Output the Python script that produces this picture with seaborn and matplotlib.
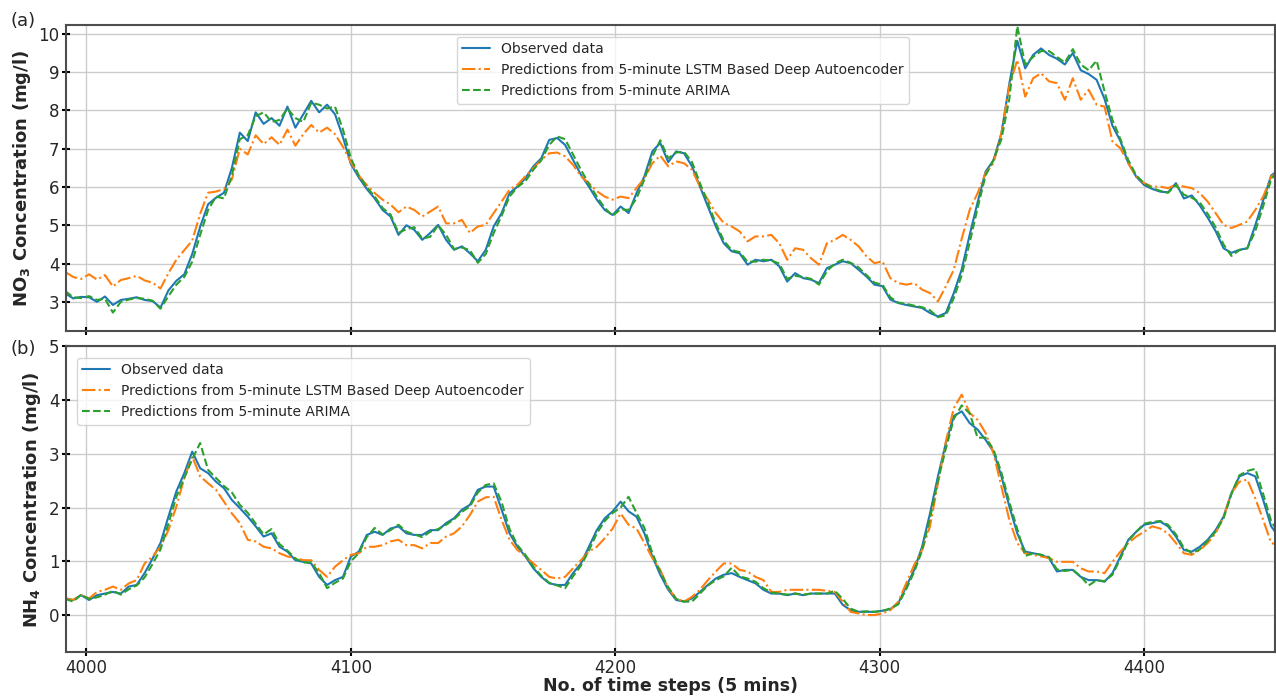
import numpy as np
import pandas as pd
import matplotlib
matplotlib.use("Agg")
import matplotlib.pyplot as plt
import seaborn as sns

# time steps (every third 5-minute step)
steps = list(range(3992, 4452, 3))

# NO3 panel (a)
no3_observed = [
    3.22, 3.09, 3.13, 3.12, 3.00, 3.14, 2.92, 3.05, 3.08, 3.12, 3.05, 3.02, 2.85, 3.30, 3.55, 3.72,
    4.25, 4.96, 5.55, 5.72, 5.85, 6.50, 7.42, 7.20, 7.95, 7.65, 7.80, 7.60, 8.10, 7.55, 7.90, 8.25,
    7.95, 8.15, 7.90, 7.30, 6.60, 6.25, 5.95, 5.70, 5.40, 5.23, 4.75, 5.00, 4.88, 4.62, 4.80, 5.01,
    4.62, 4.36, 4.45, 4.27, 4.06, 4.36, 4.97, 5.32, 5.84, 6.01, 6.23, 6.54, 6.75, 7.23, 7.28, 7.10,
    6.71, 6.32, 6.01, 5.67, 5.40, 5.27, 5.49, 5.32, 5.84, 6.28, 6.93, 7.15, 6.65, 6.93, 6.88, 6.54,
    6.01, 5.49, 4.97, 4.53, 4.32, 4.27, 3.97, 4.10, 4.06, 4.10, 3.93, 3.53, 3.75, 3.62, 3.58, 3.49,
    3.88, 3.97, 4.06, 4.01, 3.84, 3.66, 3.45, 3.41, 3.06, 2.97, 2.92, 2.88, 2.84, 2.71, 2.62, 2.71,
    3.23, 3.85, 4.75, 5.60, 6.40, 6.70, 7.40, 8.70, 9.82, 9.10, 9.45, 9.62, 9.45, 9.35, 9.20, 9.50,
    9.05, 8.95, 8.80, 8.30, 7.60, 7.20, 6.62, 6.27, 6.05, 5.95, 5.88, 5.86, 6.10, 5.70, 5.78, 5.52,
    5.20, 4.85, 4.40, 4.28, 4.36, 4.40, 5.00, 5.65, 6.30, 6.45,
]
no3_lstm = [
    3.78, 3.65, 3.60, 3.72, 3.58, 3.70, 3.40, 3.57, 3.62, 3.68, 3.56, 3.50, 3.35, 3.75, 4.10, 4.35,
    4.60, 5.30, 5.85, 5.88, 5.95, 6.20, 7.00, 6.85, 7.35, 7.12, 7.30, 7.10, 7.50, 7.08, 7.38, 7.62,
    7.42, 7.55, 7.38, 7.05, 6.65, 6.30, 6.05, 5.84, 5.67, 5.54, 5.34, 5.49, 5.40, 5.23, 5.36, 5.49,
    5.05, 5.05, 5.14, 4.80, 4.97, 5.01, 5.32, 5.62, 5.93, 6.06, 6.28, 6.49, 6.71, 6.88, 6.90, 6.80,
    6.58, 6.28, 6.10, 5.89, 5.75, 5.67, 5.75, 5.71, 5.97, 6.23, 6.62, 6.82, 6.54, 6.67, 6.62, 6.45,
    6.01, 5.67, 5.32, 5.06, 4.97, 4.84, 4.58, 4.71, 4.71, 4.75, 4.53, 4.10, 4.40, 4.36, 4.14, 3.97,
    4.53, 4.62, 4.75, 4.62, 4.45, 4.19, 4.01, 4.06, 3.62, 3.49, 3.45, 3.49, 3.32, 3.23, 3.01, 3.41,
    3.84, 4.65, 5.40, 5.84, 6.36, 6.62, 7.41, 8.63, 9.32, 8.36, 8.84, 8.97, 8.76, 8.71, 8.28, 8.84,
    8.28, 8.54, 8.15, 8.10, 7.19, 7.01, 6.62, 6.27, 6.10, 6.01, 6.01, 5.97, 6.06, 6.01, 5.97, 5.84,
    5.62, 5.32, 5.01, 4.93, 5.01, 5.10, 5.40, 5.75, 6.27, 6.40,
]
no3_arima = [
    3.28, 3.12, 3.10, 3.15, 3.05, 3.08, 2.72, 3.00, 3.06, 3.10, 3.08, 3.03, 2.82, 3.15, 3.45, 3.65,
    4.05, 4.75, 5.40, 5.75, 5.70, 6.30, 7.25, 7.35, 7.85, 7.95, 7.70, 7.75, 8.05, 7.80, 7.70, 8.20,
    8.15, 8.05, 8.10, 7.50, 6.75, 6.30, 6.00, 5.75, 5.45, 5.28, 4.80, 4.90, 4.95, 4.65, 4.70, 5.00,
    4.75, 4.38, 4.42, 4.35, 4.02, 4.25, 4.80, 5.25, 5.75, 6.00, 6.15, 6.45, 6.70, 7.10, 7.32, 7.25,
    6.85, 6.45, 6.08, 5.75, 5.45, 5.25, 5.42, 5.40, 5.70, 6.20, 6.80, 7.22, 6.75, 6.90, 6.92, 6.65,
    6.10, 5.58, 5.05, 4.60, 4.35, 4.30, 4.05, 4.05, 4.10, 4.08, 4.00, 3.60, 3.68, 3.65, 3.60, 3.45,
    3.80, 4.00, 4.10, 4.02, 3.90, 3.70, 3.50, 3.45, 3.12, 2.98, 2.95, 2.90, 2.86, 2.78, 2.60, 2.65,
    3.10, 3.70, 4.55, 5.45, 6.30, 6.70, 7.25, 8.30, 10.20, 9.20, 9.40, 9.55, 9.55, 9.40, 9.25, 9.60,
    9.20, 9.05, 9.30, 8.50, 7.75, 7.25, 6.70, 6.30, 6.10, 5.97, 5.90, 5.85, 6.05, 5.80, 5.72, 5.60,
    5.30, 4.95, 4.50, 4.20, 4.35, 4.40, 4.85, 5.50, 6.20, 6.45,
]

# NH4 panel (b)
nh4_observed = [
    0.31, 0.28, 0.37, 0.28, 0.37, 0.40, 0.43, 0.40, 0.53, 0.56, 0.78, 1.05, 1.34, 1.83, 2.30, 2.64,
    3.04, 2.73, 2.64, 2.48, 2.36, 2.14, 1.99, 1.83, 1.65, 1.46, 1.52, 1.27, 1.18, 1.02, 0.99, 0.96,
    0.71, 0.56, 0.65, 0.71, 1.09, 1.18, 1.49, 1.55, 1.49, 1.61, 1.65, 1.52, 1.49, 1.49, 1.58, 1.58,
    1.71, 1.80, 1.96, 2.05, 2.33, 2.39, 2.39, 1.96, 1.52, 1.27, 1.09, 0.87, 0.71, 0.59, 0.56, 0.56,
    0.78, 0.96, 1.27, 1.58, 1.80, 1.93, 2.11, 1.93, 1.83, 1.52, 1.09, 0.75, 0.47, 0.28, 0.25, 0.31,
    0.43, 0.56, 0.68, 0.75, 0.78, 0.71, 0.65, 0.59, 0.47, 0.40, 0.40, 0.37, 0.40, 0.37, 0.40, 0.40,
    0.40, 0.40, 0.19, 0.09, 0.06, 0.06, 0.06, 0.08, 0.11, 0.22, 0.53, 0.84, 1.27, 1.89, 2.58, 3.20,
    3.70, 3.79, 3.57, 3.45, 3.26, 3.04, 2.58, 2.02, 1.52, 1.18, 1.15, 1.12, 1.06, 0.81, 0.84, 0.84,
    0.71, 0.65, 0.65, 0.62, 0.78, 1.09, 1.40, 1.55, 1.68, 1.71, 1.74, 1.65, 1.46, 1.21, 1.18, 1.27,
    1.40, 1.58, 1.83, 2.27, 2.58, 2.64, 2.58, 2.14, 1.65, 1.45,
]
nh4_lstm = [
    0.31, 0.28, 0.37, 0.31, 0.43, 0.47, 0.53, 0.47, 0.59, 0.65, 0.96, 1.09, 1.27, 1.58, 2.02, 2.55,
    2.95, 2.58, 2.45, 2.33, 2.11, 1.89, 1.71, 1.40, 1.37, 1.27, 1.24, 1.15, 1.09, 1.06, 1.02, 1.02,
    0.84, 0.71, 0.90, 1.02, 1.12, 1.15, 1.27, 1.27, 1.30, 1.37, 1.40, 1.30, 1.30, 1.24, 1.34, 1.34,
    1.46, 1.52, 1.65, 1.86, 2.11, 2.19, 2.20, 1.77, 1.40, 1.21, 1.09, 0.96, 0.84, 0.71, 0.68, 0.71,
    0.87, 1.02, 1.18, 1.27, 1.43, 1.61, 1.89, 1.68, 1.61, 1.34, 1.06, 0.84, 0.50, 0.31, 0.25, 0.34,
    0.47, 0.65, 0.81, 0.96, 0.96, 0.84, 0.81, 0.71, 0.65, 0.43, 0.43, 0.47, 0.47, 0.47, 0.47, 0.47,
    0.45, 0.43, 0.25, 0.06, 0.03, 0.00, 0.00, 0.03, 0.09, 0.25, 0.59, 0.93, 1.21, 1.65, 2.45, 3.23,
    3.85, 4.10, 3.76, 3.63, 3.39, 3.01, 2.39, 1.77, 1.34, 1.15, 1.12, 1.09, 1.06, 0.99, 0.99, 0.99,
    0.87, 0.81, 0.81, 0.78, 0.99, 1.18, 1.34, 1.46, 1.55, 1.65, 1.61, 1.52, 1.34, 1.15, 1.12, 1.21,
    1.34, 1.52, 1.83, 2.27, 2.48, 2.52, 2.17, 1.77, 1.34, 1.30,
]
nh4_arima = [
    0.30, 0.25, 0.38, 0.30, 0.33, 0.38, 0.45, 0.38, 0.48, 0.55, 0.70, 0.95, 1.22, 1.70, 2.20, 2.55,
    2.90, 3.20, 2.70, 2.55, 2.40, 2.28, 2.05, 1.90, 1.70, 1.50, 1.60, 1.32, 1.20, 1.05, 0.98, 0.98,
    0.78, 0.50, 0.60, 0.68, 1.00, 1.15, 1.45, 1.62, 1.50, 1.58, 1.68, 1.55, 1.50, 1.45, 1.55, 1.60,
    1.68, 1.78, 1.92, 2.02, 2.28, 2.42, 2.45, 2.10, 1.60, 1.30, 1.12, 0.90, 0.73, 0.60, 0.55, 0.50,
    0.72, 0.92, 1.20, 1.52, 1.75, 1.90, 2.00, 2.20, 1.90, 1.62, 1.15, 0.80, 0.52, 0.30, 0.25, 0.25,
    0.40, 0.55, 0.65, 0.72, 0.88, 0.72, 0.68, 0.62, 0.50, 0.42, 0.40, 0.38, 0.40, 0.38, 0.40, 0.40,
    0.40, 0.45, 0.30, 0.12, 0.06, 0.07, 0.06, 0.08, 0.12, 0.20, 0.48, 0.80, 1.20, 1.80, 2.50, 3.10,
    3.65, 3.90, 3.75, 3.30, 3.30, 3.08, 2.65, 2.10, 1.60, 1.10, 1.15, 1.12, 1.08, 0.85, 0.82, 0.84,
    0.72, 0.55, 0.65, 0.63, 0.75, 1.05, 1.38, 1.55, 1.70, 1.73, 1.75, 1.68, 1.50, 1.25, 1.15, 1.22,
    1.38, 1.55, 1.80, 2.25, 2.60, 2.68, 2.72, 2.25, 1.75, 1.50,
]

series_names = ["Observed data",
                "Predictions from 5-minute LSTM Based Deep Autoencoder",
                "Predictions from 5-minute ARIMA"]
series_colors = ["#1f77b4", "#ff7f0e", "#2ca02c"]
series_styles = ["-", "-.", "--"]

sns.set_style("whitegrid", {"axes.edgecolor": "0.3", "grid.color": "0.8"})
plt.rcParams["font.family"] = ["DejaVu Sans"]

fig, (ax1, ax2) = plt.subplots(2, 1, figsize=(12.76, 6.96), dpi=100, sharex=True)
fig.subplots_adjust(left=0.052, right=0.9995, top=0.964, bottom=0.063, hspace=0.05)

panels = [
    (ax1, [no3_observed, no3_lstm, no3_arima]),
    (ax2, [nh4_observed, nh4_lstm, nh4_arima]),
]
for ax, values in panels:
    df = pd.DataFrame({"step": steps})
    for name, vals, col, ls in zip(series_names, values, series_colors, series_styles):
        df[name] = vals
        sns.lineplot(data=df, x="step", y=name, ax=ax, color=col, linestyle=ls,
                     linewidth=1.5, label=name)
    for sp in ax.spines.values():
        sp.set_linewidth(1.5)
    ax.tick_params(axis="both", which="both", bottom=True, left=True, direction="inout",
                   length=6, width=1.5, color="black", labelsize=12, pad=2)
    ax.grid(True, color="0.8", linewidth=1)

ax1.set_xlim(3992.4, 4449.6)
ax1.set_ylim(2.24, 10.23)
ax1.set_yticks(range(3, 11))
ax2.set_ylim(-0.69, 5.0)
ax2.set_yticks(range(0, 6))
ax2.set_xticks([4000, 4100, 4200, 4300, 4400])
ax1.tick_params(labelbottom=False)

ax1.set_xlabel("")
ax1.set_ylabel(r"NO$_\mathbf{3}$ Concentration (mg/l)", fontsize=13, fontweight="bold")
ax2.set_ylabel(r"NH$_\mathbf{4}$ Concentration (mg/l)", fontsize=13, fontweight="bold")
ax2.set_xlabel("No. of time steps (5 mins)", fontsize=12.5, fontweight="bold", labelpad=0)

ax1.legend(loc="upper left", bbox_to_anchor=(0.317, 0.985), fontsize=10, framealpha=0.8)
ax2.legend(loc="upper left", bbox_to_anchor=(0.003, 0.985), fontsize=10, framealpha=0.8)

fig.text(0.008, 0.962, "(a)", fontsize=13)
fig.text(0.008, 0.492, "(b)", fontsize=13)

fig.savefig("out.png", dpi=100)
